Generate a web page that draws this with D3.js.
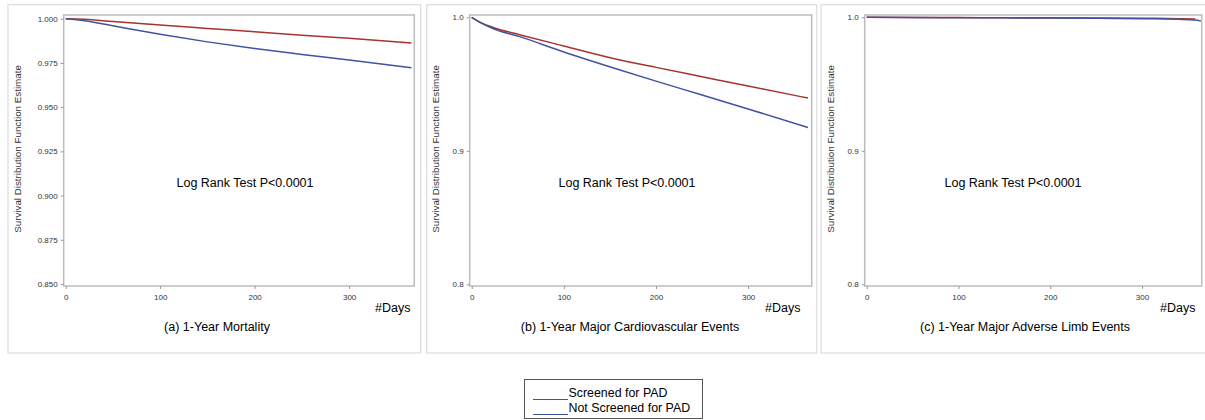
<!DOCTYPE html>
<html>
<head>
<meta charset="utf-8">
<script src="https://cdn.jsdelivr.net/npm/d3@7"></script>
<style>
  body { margin: 0; background: #fff; }
  text { font-family: "Liberation Sans", Arial, sans-serif; }
  .tick text { fill: #333; font-size: 8px; }
</style>
</head>
<body>
<script>
// data
var daysA = [0, 20, 50, 100, 150, 200, 250, 300, 366]
var screenedA = [1.000, 0.9997, 0.9984, 0.9964, 0.9945, 0.9926, 0.9906, 0.9889, 0.9862]
var notScreenedA = [1.000, 0.9989, 0.9960, 0.9912, 0.9869, 0.9831, 0.9798, 0.9766, 0.9722]

var daysB = [0, 10, 25, 52, 100, 161, 200, 250, 300, 365]
var screenedB = [1.000, 0.9960, 0.9920, 0.9870, 0.9785, 0.9680, 0.9625, 0.9555, 0.9485, 0.9395]
var notScreenedB = [1.000, 0.9958, 0.9910, 0.9855, 0.9740, 0.9605, 0.9522, 0.9418, 0.9313, 0.9175]

var daysScreenedC = [0, 50, 100, 150, 200, 250, 300, 340, 358]
var screenedC = [1.000, 0.9999, 0.9998, 0.9997, 0.9996, 0.9995, 0.9993, 0.9990, 0.9987]
var daysNotC = [0, 50, 100, 150, 200, 250, 300, 340, 358, 364]
var notScreenedC = [1.000, 0.9998, 0.9997, 0.9996, 0.9994, 0.9992, 0.9989, 0.9985, 0.9980, 0.9972]

var xTicks = [0, 100, 200, 300]
var yTicksA = [0.850, 0.875, 0.900, 0.925, 0.950, 0.975, 1.000]
var yTicksBC = [0.8, 0.9, 1.0]
var titles = ["(a) 1-Year Mortality", "(b) 1-Year Major Cardiovascular Events", "(c) 1-Year Major Adverse Limb Events"]
var seriesNames = ["Screened for PAD", "Not Screened for PAD"]

var red = "#a8332e", blue = "#4152a3"

var svg = d3.select("body").append("svg")
  .attr("width", 1205)
  .attr("height", 420)

var panels = [
  {box: [8, 4.7, 420.7, 353], x0: 65.7, x1: 414.3, xmax: 369, yTop: 18.7, yBot: 284, ydom: [0.85, 1.0], yticks: yTicksA, fmt: ".3f",
   series: [[daysA, screenedA, red], [daysA, notScreenedA, blue]], title: titles[0], logX: 245, titleX: 217, daysX: 375, labX: 21},
  {box: [426.7, 4.7, 816.7, 353], x0: 471.7, x1: 811.7, xmax: 369, yTop: 17.3, yBot: 284.3, ydom: [0.8, 1.0], yticks: yTicksBC, fmt: ".1f",
   series: [[daysB, screenedB, red], [daysB, notScreenedB, blue]], title: titles[1], logX: 627, titleX: 630, daysX: 765, labX: 439},
  {box: [821, 4.7, 1212, 353], x0: 866.7, x1: 1201.7, xmax: 365, yTop: 17.3, yBot: 284.3, ydom: [0.8, 1.0], yticks: yTicksBC, fmt: ".1f",
   series: [[daysScreenedC, screenedC, red], [daysNotC, notScreenedC, blue]], title: titles[2], logX: 1013, titleX: 1025, daysX: 1160, labX: 834}
]

panels.forEach(function(p){
  var g = svg.append("g")

  // outer panel frame
  g.append("rect")
    .attr("x", p.box[0]).attr("y", p.box[1])
    .attr("width", p.box[2]-p.box[0]).attr("height", p.box[3]-p.box[1])
    .style("fill", "none").style("stroke", "#dcdcdc").style("stroke-width", 1.2)

  var x = d3.scaleLinear().domain([0, p.xmax]).range([p.x0, p.x1])
  var y = d3.scaleLinear().domain(p.ydom).range([p.yBot, p.yTop])

  // plot frame
  g.append("rect")
    .attr("x", p.x0-2).attr("y", 15)
    .attr("width", p.x1-p.x0+2).attr("height", 286-15)
    .style("fill", "none").style("stroke", "#bcbcbc").style("stroke-width", 1.5)

  var xAxis = g.append("g")
    .attr("transform", "translate(0,286)")
    .call(d3.axisBottom(x).tickValues(xTicks).tickSize(3).tickSizeOuter(0).tickPadding(5))
  var yAxis = g.append("g")
    .attr("transform", "translate(" + (p.x0-2) + ",0)")
    .call(d3.axisLeft(y).tickValues(p.yticks).tickFormat(d3.format(p.fmt)).tickSize(3).tickSizeOuter(0).tickPadding(3))
  ;[xAxis, yAxis].forEach(function(a){
    a.select(".domain").remove()
    a.selectAll(".tick line").style("stroke", "#999")
  })

  // curves
  var line = d3.line()
    .x(function(d){ return x(d[0]) })
    .y(function(d){ return y(d[1]) })
    .curve(d3.curveMonotoneX)
  p.series.forEach(function(s){
    var pts = s[0].map(function(d, i){ return [d, s[1][i]] })
    g.append("path")
      .attr("d", line(pts))
      .style("fill", "none")
      .style("stroke", s[2])
      .style("stroke-width", 1.5)
  })

  g.append("text")
    .attr("transform", "translate(" + p.labX + ",149) rotate(-90)")
    .attr("text-anchor", "middle")
    .style("font-size", "9.8px")
    .style("fill", "#333")
    .text("Survival Distribution Function Estimate")

  g.append("text")
    .attr("x", p.logX).attr("y", 187)
    .attr("text-anchor", "middle")
    .style("font-size", "12.5px")
    .text("Log Rank Test P<0.0001")

  g.append("text")
    .attr("x", p.daysX).attr("y", 312)
    .style("font-size", "12.5px")
    .text("#Days")

  g.append("text")
    .attr("x", p.titleX).attr("y", 331)
    .attr("text-anchor", "middle")
    .style("font-size", "12.5px")
    .text(p.title)
})

// legend
var leg = svg.append("g")
leg.append("rect")
  .attr("x", 524.5).attr("y", 379.5)
  .attr("width", 178).attr("height", 39)
  .style("fill", "#fff").style("stroke", "#555").style("stroke-width", 1)
;[red, blue].forEach(function(c, i){
  leg.append("line")
    .attr("x1", 533).attr("x2", 568)
    .attr("y1", 399.5 + i*15).attr("y2", 399.5 + i*15)
    .style("stroke", c).style("stroke-width", 1.2)
  leg.append("text")
    .attr("x", 568.5).attr("y", 397 + i*15)
    .style("font-size", "12.4px")
    .text(seriesNames[i])
})
</script>
</body>
</html>
